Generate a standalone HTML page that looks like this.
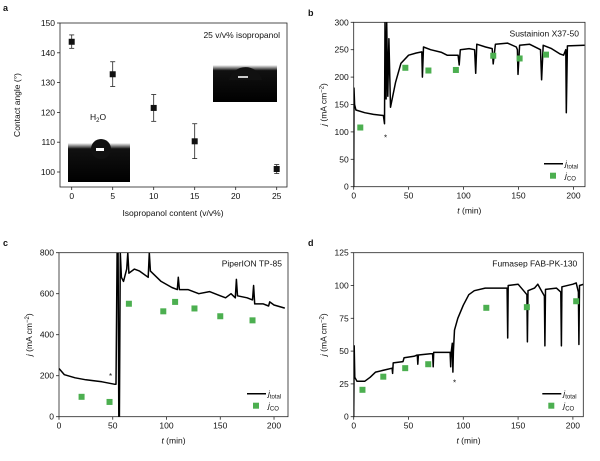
<!DOCTYPE html>
<html><head><meta charset="utf-8"><style>
body{margin:0;background:#fff;}
svg{display:block;font-family:"Liberation Sans",Arial,sans-serif;}
</style></head><body>
<svg id="fig" width="600" height="461" viewBox="0 0 600 461" xmlns="http://www.w3.org/2000/svg"></svg>
<script>
// Panel a data
const aX=[0,5,10,15,25];
const aY=[143.7,132.8,121.5,110.3,101];
const aLo=[141.5,128.7,117,104.5,99.5];
const aHi=[146,137,126,116.2,102.5];
const aXTicks=[0,5,10,15,20,25];
const aYTicks=[100,110,120,130,140,150];
// Panel b data
const bT=[0,0.3,0.8,2,10,18,27,28,28.5,29.5,30,31,32,33.5,38,43,50,57,62,62.5,63.5,70,80,85,95,96,97,105,110,111,112,120,126,127,129,140,148,149,149.5,151,160,170,171,172.5,180,188,191,193,193.5,194.5,210];
const bJ=[0,180,150,140,135,132,130,115,300,160,300,165,270,145,190,225,240,244,246,200,255,250,245,240,240,222,250,252,250,207,260,255,252,224,260,262,255,250,205,258,260,250,195,258,252,242,240,250,135,257,258];
const bCoT=[6,47,68,93,127,151,175];
const bCoJ=[108,217,212,213,239,234,241];
const bYTicks=[0,50,100,150,200,250,300];
// Panel c data
const cT=[0,5,15,25,40,52,53,54,55,55.6,56.2,57,58,60,63,64,65,70,75,83,84,85,95,105,110,111,112,120,130,140,150,155,160,164,165,166,175,180,181,182,190,195,196,200,210];
const cJ=[235,205,190,180,170,158,158,800,800,0,0,800,680,660,720,800,700,720,710,680,800,710,660,630,620,680,620,620,600,610,590,580,600,580,670,590,580,570,640,550,550,540,560,545,530];
const cCoT=[21,47,65,97,108,126,150,180];
const cCoJ=[97,72,551,514,560,528,490,470];
const cYTicks=[0,200,400,600,800];
// Panel d data
const dT=[0,0.5,1,3,10,15,20,30,35,35.5,36,45,46,55,58,58.5,59,70,72,72.5,73,88,88.5,89,90,90.5,91,92,95,100,105,110,120,140,140.5,141,150,155,158,158.5,159,165,168,172,174,174.5,175,185,189,189.5,190,200,203,205,205.5,206,210];
const dJ=[0,54,30,27,27,30,34,36,37,33,41,42,45,46,47,40,47,48,48,38,49,49,38,49,56,34,50,66,75,85,93,96,98,98,60,100,101,96,93,57,96,98,101,95,92,54,97,98,95,54,99,101,102,95,55,100,101];
const dCoT=[8,27,47,68,121,158,203];
const dCoJ=[20.5,30.5,37,40,83,83.5,88];
const dYTicks=[0,25,50,75,100,125];
const tTicks=[0,50,100,150,200];

const svg=document.getElementById('fig');
const NS='http://www.w3.org/2000/svg';
function el(tag,attrs,parent){const e=document.createElementNS(NS,tag);for(const k in attrs)e.setAttribute(k,attrs[k]);(parent||svg).appendChild(e);return e;}
function txt(x,y,s,size,anchor,parent,extra){const e=el('text',Object.assign({x:x,y:y,'font-size':size,'text-anchor':anchor||'start',fill:'#111'},extra||{}),parent);e.textContent=s;return e;}

function axes(g,L,R,T,B,xs,ys,xt,yt){
  el('rect',{x:L,y:T,width:R-L,height:B-T,fill:'none',stroke:'#222','stroke-width':0.8},g);
  xt.forEach(v=>{const x=xs(v);el('line',{x1:x,x2:x,y1:B,y2:B+3,stroke:'#222','stroke-width':0.8},g);
    const t=txt(x,B+12,String(v),8.5,'middle',g);
    
    });
  yt.forEach(v=>{const y=ys(v);el('line',{x1:L-3,x2:L,y1:y,y2:y,stroke:'#222','stroke-width':0.8},g);
    const t=txt(L-5,y+3,String(v),8.5,'end',g);
    
    });
}
function letter(x,y,s){const t=txt(x,y,s,9,'start',svg,{'font-weight':'bold'});
  
  }

// ---- Panel a
(function(){
  const g=el('g',{});
  
  
  const L=60,R=287,T=23,B=187;
  const xs=v=>71.7+v*8.2, ys=v=>23+(150-v)*2.98;
  axes(g,L,R,T,B,xs,ys,aXTicks,aYTicks);
  // inset images
  const defs=el('defs',{},g);
  const gr=el('linearGradient',{id:'gin',x1:0,y1:0,x2:0,y2:1},defs);
  el('stop',{offset:'0','stop-color':'#fff'},gr);el('stop',{offset:'0.15','stop-color':'#111'},gr);el('stop',{offset:'1','stop-color':'#000'},gr);
  const i1=el('g',{},g);
  el('rect',{x:68,y:143,width:62,height:39,fill:'url(#gin)'},i1);
  el('circle',{cx:101,cy:149,r:10,fill:'#111'},i1);
  el('rect',{x:96,y:148,width:8,height:3,fill:'#fff'},i1);
  const i2=el('g',{},g);
  el('rect',{x:213,y:65,width:64,height:37,fill:'url(#gin)'},i2);
  el('path',{d:'M229 80 A17 17 0 0 1 262 80 Z',fill:'#111'},i2);
  el('rect',{x:238,y:76,width:10,height:2,fill:'#ccc'},i2);
  const l1=txt(90,120,'H',8.5,'start',g);
  const s=el('tspan',{'font-size':6,dy:2},l1);s.textContent='2';const o=el('tspan',{dy:-2},l1);o.textContent='O';
  const l2=txt(280,38,'25 v/v% isopropanol',8.5,'end',g);
  aX.forEach((v,i)=>{const x=xs(v);
    const e=el('line',{x1:x,x2:x,y1:ys(aLo[i]),y2:ys(aHi[i]),stroke:'#222','stroke-width':0.8},g);
    
    el('line',{x1:x-2.5,x2:x+2.5,y1:ys(aLo[i]),y2:ys(aLo[i]),stroke:'#222','stroke-width':0.8},g);
    el('line',{x1:x-2.5,x2:x+2.5,y1:ys(aHi[i]),y2:ys(aHi[i]),stroke:'#222','stroke-width':0.8},g);
    const m=el('rect',{x:x-3,y:ys(aY[i])-3,width:6,height:6,fill:'#111'},g);
    });
  const xl=txt(173,216,'Isopropanol content (v/v%)',8.5,'middle',g);
  const yl=txt(0,0,'Contact angle (°)',8.5,'middle',g,{transform:'translate(20,105) rotate(-90)'});
})();
letter(3,11,'a');

function timePanel(name,L,R,T,B,xmax,ymax,yt,tArr,jArr,coT,coJ,star,title,clipId){
  const g=el('g',{});
  
  
  const xs=v=>L+v*((R-L)/xmax), ys=v=>B-v*((B-T)/ymax);
  axes(g,L,R,T,B,xs,ys,tTicks,yt);
  const defs=el('defs',{},g);const cp=el('clipPath',{id:clipId},defs);el('rect',{x:L,y:T,width:R-L,height:B-T},cp);
  const pts=tArr.map((t,i)=>xs(t).toFixed(1)+','+ys(jArr[i]).toFixed(1)).join(' ');
  const pl=el('polyline',{points:pts,fill:'none',stroke:'#000','stroke-width':1.5,'stroke-linejoin':'round','clip-path':'url(#'+clipId+')'},g);
  
  coT.forEach((t,i)=>{const m=el('rect',{x:xs(t)-3,y:ys(coJ[i])-3,width:6,height:6,fill:'#4caf50'},g);
    });
  const st=txt(xs(star[0]),ys(star[1])+3,'*',8,'middle',g);
  const ti=txt(R-6,T+14,title,8.5,'end',g);
  // legend
  const lg=el('g',{},g);
  el('line',{x1:R-41,x2:R-22,y1:B-23,y2:B-23,stroke:'#000','stroke-width':1.5},lg);
  const t1=txt(R-20,B-20,'j',8.5,'start',lg,{'font-style':'italic'});const s1=el('tspan',{'font-size':6,dy:2,'font-style':'normal'},t1);s1.textContent='total';
  el('rect',{x:R-35,y:B-14,width:6,height:6,fill:'#4caf50'},lg);
  const t2=txt(R-20,B-8,'j',8.5,'start',lg,{'font-style':'italic'});const s2=el('tspan',{'font-size':6,dy:2,'font-style':'normal'},t2);s2.textContent='CO';
  const xl=txt((L+R)/2,B+27,'',8.5,'middle',g);
  const a=el('tspan',{'font-style':'italic'},xl);a.textContent='t';const b=el('tspan',{},xl);b.textContent=' (min)';
  const yl=txt(0,0,'',8.5,'middle',g,{transform:'translate('+(L-27)+','+((T+B)/2)+') rotate(-90)'});
  const y1=el('tspan',{'font-style':'italic'},yl);y1.textContent='j';const y2=el('tspan',{},yl);y2.textContent=' (mA cm';
  const y3=el('tspan',{'font-size':6,dy:-3},yl);y3.textContent='−2';const y4=el('tspan',{dy:3},yl);y4.textContent=')';
}
timePanel('panel-b-sustainion',353.7,585,22.3,186.7,210.5,300,bYTicks,bT,bJ,bCoT,bCoJ,[29,90],'Sustainion X37-50','cb');
letter(308,16,'b');
timePanel('panel-c-piperion',59,288,252.7,416.7,213,800,cYTicks,cT,cJ,cCoT,cCoJ,[48,198],'PiperION TP-85','cc');
letter(3,246,'c');
timePanel('panel-d-fumasep',353.7,583.3,252.7,416.7,209.5,125,dYTicks,dT,dJ,dCoT,dCoJ,[92,26],'Fumasep FAB-PK-130','cd');
letter(308,246,'d');
</script>
</body></html>
